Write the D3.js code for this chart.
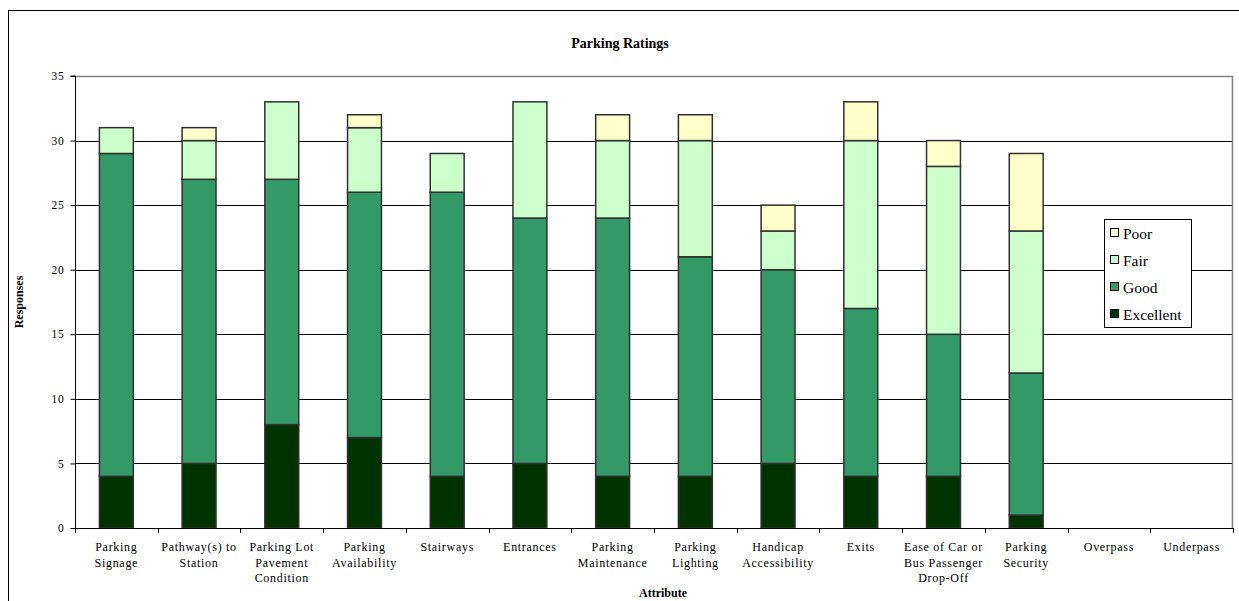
<!DOCTYPE html>
<html>
<head>
<meta charset="utf-8">
<script src="https://cdn.jsdelivr.net/npm/d3@7"></script>
<style>
  html, body { margin: 0; padding: 0; background: #fff; }
  svg { display: block; }
  text { font-family: "Liberation Serif", "Times New Roman", serif; fill: #000; }
</style>
</head>
<body>
<svg id="chart" width="1239" height="601"></svg>
<script>
// Attributes rated and the count of responses for each rating
const categories = [
  ["Parking", "Signage"],
  ["Pathway(s) to", "Station"],
  ["Parking Lot", "Pavement", "Condition"],
  ["Parking", "Availability"],
  ["Stairways"],
  ["Entrances"],
  ["Parking", "Maintenance"],
  ["Parking", "Lighting"],
  ["Handicap", "Accessibility"],
  ["Exits"],
  ["Ease of Car or", "Bus Passenger", "Drop-Off"],
  ["Parking", "Security"],
  ["Overpass"],
  ["Underpass"]
];
const excellent = [4, 5, 8, 7, 4, 5, 4, 4, 5, 4, 4, 1, 0, 0];
const good      = [25, 22, 19, 19, 22, 19, 20, 17, 15, 13, 11, 11, 0, 0];
const fair      = [2, 3, 6, 5, 3, 9, 6, 9, 3, 13, 13, 11, 0, 0];
const poor      = [0, 1, 0, 1, 0, 0, 2, 2, 2, 3, 2, 6, 0, 0];
const seriesNames = ["Excellent", "Good", "Fair", "Poor"];
const yTicks = [0, 5, 10, 15, 20, 25, 30, 35];

const colors = { Excellent: "#003300", Good: "#339966", Fair: "#CCFFCC", Poor: "#FFFFCC" };

const svg = d3.select("#chart");
const W = 1239, H = 601;
const plot = { left: 75, right: 1233, top: 76, bottom: 528 };

// Outer chart frame
svg.append("rect")
  .attr("x", 8.5).attr("y", 10.5)
  .attr("width", W + 20).attr("height", H + 20)
  .attr("fill", "none").attr("stroke", "#000").attr("stroke-width", 1);

const keys = categories.map((c, i) => i);
const x = d3.scaleBand().domain(keys).range([plot.left, plot.right]).paddingInner(0).paddingOuter(0);
const y = d3.scaleLinear().domain([0, 35]).range([plot.bottom, plot.top]);

// Plot area border (top and right)
svg.append("path")
  .attr("d", `M${plot.left},${plot.top + 0.5}H${plot.right - 0.5}V${plot.bottom}`)
  .attr("fill", "none").attr("stroke", "#808080").attr("stroke-width", 1.5);

// Horizontal gridlines
svg.append("g")
  .selectAll("line")
  .data(yTicks.filter(t => t > 0 && t < 35))
  .join("line")
  .attr("x1", plot.left).attr("x2", plot.right - 1)
  .attr("y1", d => Math.round(y(d)) + 0.5).attr("y2", d => Math.round(y(d)) + 0.5)
  .attr("stroke", "#000").attr("stroke-width", 1);

// Stacked bars
const rows = keys.map(i => ({
  i,
  Excellent: excellent[i], Good: good[i], Fair: fair[i], Poor: poor[i]
}));
const stacked = d3.stack().keys(seriesNames)(rows);
const bw = x.bandwidth() * 0.41;

svg.append("g")
  .selectAll("g")
  .data(stacked)
  .join("g")
  .attr("fill", d => colors[d.key])
  .selectAll("rect")
  .data(d => d.filter(s => s[1] - s[0] > 0))
  .join("rect")
  .attr("x", d => x(d.data.i) + (x.bandwidth() - bw) / 2)
  .attr("y", d => y(d[1]))
  .attr("width", bw)
  .attr("height", d => y(d[0]) - y(d[1]))
  .attr("stroke", "#303030")
  .attr("stroke-width", 1.5);

// Y axis
const yAxis = d3.axisLeft(y).tickValues(yTicks).tickSize(5).tickPadding(6);
const gy = svg.append("g").attr("transform", `translate(${plot.left + 0.5},0)`).call(yAxis);
gy.select(".domain").attr("stroke", "#000").attr("d", `M-5,${y(35)}H0V${plot.bottom}`);
gy.selectAll(".tick line").attr("stroke", "#000");
gy.selectAll(".tick text").attr("font-family", "Liberation Serif").attr("font-size", 11.5).attr("letter-spacing", 0.8);

// X axis: baseline and ticks at category boundaries
const gx = svg.append("g");
gx.append("line")
  .attr("x1", plot.left).attr("x2", plot.right)
  .attr("y1", plot.bottom + 0.5).attr("y2", plot.bottom + 0.5)
  .attr("stroke", "#000");
gx.selectAll("line.tk")
  .data(d3.range(categories.length + 1))
  .join("line")
  .attr("class", "tk")
  .attr("x1", d => Math.round(plot.left + d * x.step()) + 0.5)
  .attr("x2", d => Math.round(plot.left + d * x.step()) + 0.5)
  .attr("y1", plot.bottom).attr("y2", plot.bottom + 5)
  .attr("stroke", "#000");

// Category labels
const lab = gx.selectAll("text.cat")
  .data(categories)
  .join("text")
  .attr("class", "cat")
  .attr("text-anchor", "middle")
  .attr("font-size", 12)
  .attr("letter-spacing", 0.7);
lab.each(function(lines, i) {
  const t = d3.select(this);
  lines.forEach((ln, j) => {
    t.append("tspan")
      .attr("x", x(i) + x.bandwidth() / 2)
      .attr("y", 551 + j * 15.5)
      .text(ln);
  });
});

// Titles
svg.append("text")
  .attr("x", 620).attr("y", 48)
  .attr("text-anchor", "middle")
  .attr("font-size", 14).attr("font-weight", "bold")
  .text("Parking Ratings");

svg.append("text")
  .attr("x", 663).attr("y", 597)
  .attr("text-anchor", "middle")
  .attr("font-size", 12).attr("font-weight", "bold")
  .text("Attribute");

svg.append("text")
  .attr("transform", `translate(23,${(plot.top + plot.bottom) / 2}) rotate(-90)`)
  .attr("text-anchor", "middle")
  .attr("font-size", 12).attr("font-weight", "bold")
  .text("Responses");

// Legend
const legend = svg.append("g").attr("transform", "translate(1104,219)");
legend.append("rect")
  .attr("x", 0.5).attr("y", 0.5).attr("width", 87).attr("height", 108)
  .attr("fill", "#fff").attr("stroke", "#000").attr("stroke-width", 1);
const legendOrder = seriesNames.slice().reverse();
const li = legend.selectAll("g.item")
  .data(legendOrder)
  .join("g")
  .attr("class", "item")
  .attr("transform", (d, i) => `translate(0,${14 + i * 27})`);
li.append("rect")
  .attr("x", 6.5).attr("y", -4.5).attr("width", 8).attr("height", 8)
  .attr("fill", d => colors[d]).attr("stroke", "#000").attr("stroke-width", 1);
li.append("text")
  .attr("x", 19).attr("y", 5.5)
  .attr("font-size", 15.5)
  .text(d => d);
</script>
</body>
</html>
